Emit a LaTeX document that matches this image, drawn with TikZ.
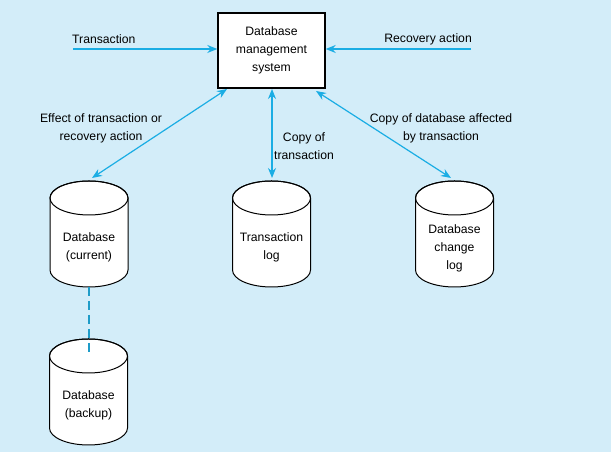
\documentclass[tikz,border=0pt]{standalone}
\usepackage{fontspec}
\setmainfont{Liberation Sans}
\usetikzlibrary{arrows.meta}
\definecolor{bgblue}{HTML}{D3EDF9}
\definecolor{arrblue}{HTML}{1AADE4}
\definecolor{dashblue}{HTML}{1E9CC8}
\tikzset{
  lbl/.style={align=center,font=\fontsize{12.2bp}{18bp}\selectfont,inner sep=0pt},
  flow/.style={draw=arrblue,line width=1.2bp,-{Stealth[length=10bp,width=8bp]}},
  bflow/.style={draw=arrblue,line width=1.2bp,{Stealth[length=10bp,width=8bp]}-{Stealth[length=10bp,width=8bp]}},
  cyl/.style={draw=black,fill=white,line width=1bp},
  dbms/.style={draw=black,fill=white,line width=1.4bp,minimum width=107bp,minimum height=75bp,inner sep=0pt,align=center,font=\fontsize{12.2bp}{18bp}\selectfont}
}
% cylinder: #1 centre x, #2 top y, #3 bottom y
\newcommand\mycyl[3]{%
  \path[cyl] (#1bp-39bp,#2bp-17bp) -- (#1bp-39bp,#3bp+17bp)
    arc[start angle=180,end angle=360,x radius=39bp,y radius=17bp]
    -- (#1bp+39bp,#2bp-17bp)
    arc[start angle=0,end angle=180,x radius=39bp,y radius=17bp] -- cycle;
  \draw[line width=1bp] (#1bp,#2bp-17bp) ellipse[x radius=39bp,y radius=17bp];
}
\begin{document}
\begin{tikzpicture}[x=1bp,y=1bp]
\fill[bgblue] (0,0) rectangle (611,452);
\useasboundingbox (0,0) rectangle (611,452);

% DBMS box
\node[dbms] (db) at (271.5,401.5) {Database\\management\\system};

% cylinders
\mycyl{89}{271}{165}
\mycyl{271.5}{271}{165}
\mycyl{454.5}{271}{165}

\coordinate (curbot) at (89,165);
\coordinate (bakmid) at (89,97);

\mycyl{88.5}{113}{7}
\draw[dashblue,line width=1.3bp,dash pattern=on 9bp off 5bp] (curbot) -- (bakmid);

\node[lbl] (cur) at (89,204.5) {Database\\(current)};
\node[lbl] (tlog) at (271.5,204.5) {Transaction\\log};
\node[lbl] (clog) at (454.5,204) {Database\\change\\log};
\node[lbl] (bak) at (88.5,46.5) {Database\\(backup)};

% incoming arrows
\coordinate (tin) at (73,403);
\coordinate (rin) at (471,403);
\draw[flow] (tin) -- (tin -| db.west);
\draw[flow] (rin) -- (rin -| db.east);
\node[lbl,anchor=west] (tlbl) at (72,413) {Transaction};
\node[lbl,anchor=east] (rlbl) at (472,413) {Recovery action};

% double arrows
\coordinate (a1) at (227,363);
\coordinate (b1) at (92,274);
\coordinate (a2) at (272,363);
\coordinate (b2) at (272,274);
\coordinate (a3) at (316,361);
\coordinate (b3) at (451,274);
\draw[bflow] (a1) -- (b1);
\draw[bflow] (a2) -- (b2);
\draw[bflow] (a3) -- (b3);

\node[lbl] (l1) at (101,324) {Effect of transaction or\\recovery action};
\node[lbl] (l2) at (304,306) {Copy of\\transaction};
\node[lbl] (l3) at (441,324) {Copy of database affected\\by transaction};
\end{tikzpicture}
\end{document}
